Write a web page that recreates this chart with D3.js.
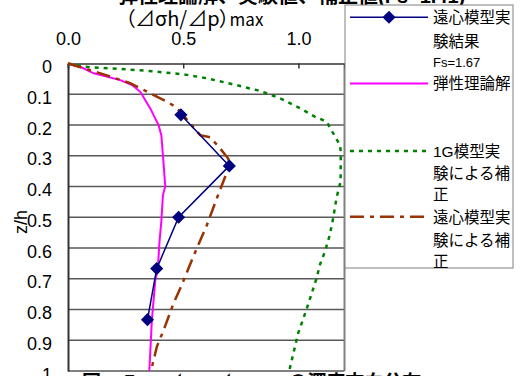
<!DOCTYPE html>
<html>
<head>
<meta charset="utf-8">
<script src="https://cdn.jsdelivr.net/npm/d3@7"></script>
<style>
  body { margin: 0; background: #fff; }
  svg text { font-family: "Liberation Sans", Arial, "Noto Sans CJK JP", sans-serif; fill: #000; }
</style>
</head>
<body>
<div id="chart"></div>
<script>
// centrifuge model test result (Fs=1.67)
var zExp = [0.167, 0.333, 0.5, 0.667, 0.833];
var vExp = [0.49, 0.70, 0.48, 0.385, 0.345];

// elastic theory solution
var zElastic = [0, 0.013, 0.032, 0.054, 0.07, 0.092, 0.146, 0.2, 0.233, 0.298, 0.40, 0.428, 0.514, 0.58, 0.666, 0.704, 0.834, 1.0];
var vElastic = [0, 0.06, 0.112, 0.227, 0.278, 0.314, 0.357, 0.393, 0.405, 0.412, 0.422, 0.412, 0.405, 0.397, 0.39, 0.379, 0.364, 0.353];

// correction from 1G model test
var z1G = [0, 0.01, 0.013, 0.018, 0.023, 0.035, 0.048, 0.068, 0.089, 0.113, 0.148, 0.173, 0.189, 0.265, 0.287, 0.384, 0.438, 0.503, 0.558, 0.612, 0.655, 0.698, 0.80, 0.877, 1.0];
var v1G = [0, 0.068, 0.112, 0.227, 0.335, 0.50, 0.603, 0.718, 0.833, 0.92, 1.014, 1.071, 1.122, 1.18, 1.184, 1.183, 1.165, 1.151, 1.136, 1.115, 1.093, 1.079, 1.035, 0.999, 0.96];

// correction from centrifuge model test
var zCf = [0, 0.032, 0.064, 0.086, 0.124, 0.14, 0.167, 0.195, 0.233, 0.24, 0.276, 0.31, 0.341, 0.438, 0.525, 0.601, 0.666, 0.72, 0.78, 0.867, 0.92, 1.0];
var vCf = [0, 0.141, 0.27, 0.328, 0.429, 0.465, 0.50, 0.53, 0.574, 0.617, 0.66, 0.696, 0.696, 0.646, 0.603, 0.559, 0.523, 0.494, 0.458, 0.415, 0.386, 0.36];

var xTicks = [0, 0.5, 1.0];
var yTicks = [0, 0.1, 0.2, 0.3, 0.4, 0.5, 0.6, 0.7, 0.8, 0.9, 1];

var legendItems = [
  { key: 'exp', lines: ['遠心模型実', '験結果', 'Fs=1.67'] },
  { key: 'elastic', lines: ['弾性理論解'] },
  { key: 'g1', lines: ['1G模型実', '験による補', '正'] },
  { key: 'cf', lines: ['遠心模型実', '験による補', '正'] }
];

var width = 525, height = 376;
var plot = { left: 68, top: 63.5, right: 344.5, bottom: 371 };

var svg = d3.select('#chart').append('svg')
  .attr('width', width)
  .attr('height', height);

var x = d3.scaleLinear().domain([0, 1.2]).range([plot.left, plot.right]);
var y = d3.scaleLinear().domain([0, 1]).range([plot.top, plot.bottom]);

// title, mostly cut off at the top edge
svg.append('text')
  .attr('x', 118).attr('y', 3)
  .style('font-size', '20px').style('font-weight', 'bold')
  .text('弾性理論解、実験値、補正値(Fs=1.41)');

// x axis title
var xt = svg.append('text')
  .attr('x', 125).attr('y', 26)
  .style('font-size', '20px')
  .style('font-family', '"Noto Sans CJK JP", sans-serif')
  .style('font-feature-settings', '"palt"');
xt.append('tspan').text('（⊿σh/⊿p）');
xt.append('tspan').style('font-size', '17px').text('max');

// gridlines
svg.append('g').selectAll('line')
  .data(yTicks.slice(1, -1))
  .enter().append('line')
  .attr('x1', plot.left).attr('x2', plot.right)
  .attr('y1', d => y(d)).attr('y2', d => y(d))
  .style('stroke', '#595959').style('stroke-width', 1.5);

// border
svg.append('line').attr('x1', plot.right).attr('x2', plot.right).attr('y1', plot.top).attr('y2', plot.bottom)
  .style('stroke', '#808080').style('stroke-width', 2);
svg.append('line').attr('x1', plot.left).attr('x2', plot.right).attr('y1', plot.bottom).attr('y2', plot.bottom)
  .style('stroke', '#808080').style('stroke-width', 2);

// top axis with inward ticks
var xAxis = d3.axisTop(x).tickValues(xTicks).tickSize(-5).tickFormat(d3.format('.1f'));
var gx = svg.append('g').attr('transform', 'translate(0,' + plot.top + ')').call(xAxis);
gx.select('.domain').style('stroke', '#333').style('stroke-width', 1.5);
gx.selectAll('.tick line').style('stroke', '#333').style('stroke-width', 1.5);
gx.selectAll('.tick text').attr('y', -19).style('font-size', '18px').style('font-family', null);

// left axis
var yAxis = d3.axisLeft(y).tickValues(yTicks).tickSize(0).tickPadding(16)
  .tickFormat(d => (d === 0 || d === 1) ? d3.format('d')(d) : d3.format('.1f')(d));
var gy = svg.append('g').attr('transform', 'translate(' + plot.left + ',0)').call(yAxis);
gy.select('.domain').style('stroke', '#333').style('stroke-width', 2);
gy.selectAll('.tick text').attr('dy', '0.5em').style('font-size', '18px').style('font-family', null);

// y axis title
svg.append('text')
  .attr('transform', 'translate(27,222) rotate(-90)')
  .attr('text-anchor', 'middle')
  .style('font-size', '18px')
  .text('z/h');

var line = d3.line().x(d => x(d[0])).y(d => y(d[1]));

// series
var series = [
  { key: 'elastic', v: vElastic, z: zElastic, color: '#FF00FF', width: 2, dash: null },
  { key: 'g1', v: v1G, z: z1G, color: '#008000', width: 2.5, dash: '4,5' },
  { key: 'cf', v: vCf, z: zCf, color: '#993300', width: 2.5, dash: '14,6,4,6' },
  { key: 'exp', v: vExp, z: zExp, color: '#000080', width: 1.5, dash: null }
];

svg.append('g').selectAll('path')
  .data(series)
  .enter().append('path')
  .attr('d', s => line(d3.zip(s.v, s.z)))
  .style('fill', 'none')
  .style('stroke', s => s.color)
  .style('stroke-width', s => s.width)
  .style('stroke-dasharray', s => s.dash);

var diamond = d3.symbol().type(d3.symbolDiamond2).size(110);
svg.append('g').selectAll('path')
  .data(d3.zip(vExp, zExp))
  .enter().append('path')
  .attr('transform', d => 'translate(' + x(d[0]) + ',' + y(d[1]) + ')')
  .attr('d', diamond)
  .style('fill', '#000080');

// legend
var lg = svg.append('g');
lg.append('rect')
  .attr('x', 345).attr('y', 5).attr('width', 168).attr('height', 263)
  .style('fill', '#fff').style('stroke', '#808080').style('stroke-width', 1);

var legendY = { exp: 17.3, elastic: 83.5, g1: 151, cf: 216.7 };
var lineSteps = { exp: [0, 23.5, 44.5], elastic: [0], g1: [0, 22.5, 43], cf: [0, 23.5, 44.5] };

legendItems.forEach(function (item) {
  var s = series.find(d => d.key === item.key);
  var ly = legendY[item.key];
  lg.append('line')
    .attr('x1', 350).attr('x2', 428).attr('y1', ly).attr('y2', ly)
    .style('stroke', s.color).style('stroke-width', s.width)
    .style('stroke-dasharray', s.dash);
  if (item.key === 'exp') {
    lg.append('path').attr('transform', 'translate(389,' + ly + ')').attr('d', diamond).style('fill', s.color);
  }
  item.lines.forEach(function (t, i) {
    lg.append('text')
      .attr('x', 433).attr('y', ly + lineSteps[item.key][i])
      .attr('dy', '0.38em')
      .style('font-size', t.startsWith('Fs') ? '13px' : '15.5px')
      .text(t);
  });
});

// caption, cut off at the bottom edge
svg.append('text')
  .attr('x', 82).attr('y', 389)
  .style('font-size', '19px').style('font-weight', 'bold')
  .text('図－５　(⊿σh/⊿p)maxの深度方向分布');
</script>
</body>
</html>
